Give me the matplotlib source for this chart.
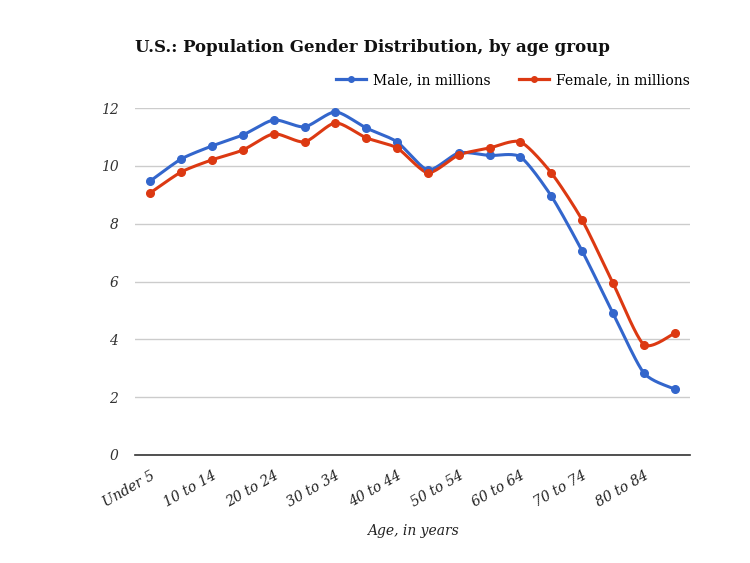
import numpy as np
import matplotlib
matplotlib.use("Agg")
import matplotlib.pyplot as plt

age_groups = ["Under 5", "5 to 9", "10 to 14", "15 to 19", "20 to 24", "25 to 29",
              "30 to 34", "35 to 39", "40 to 44", "45 to 49", "50 to 54", "55 to 59",
              "60 to 64", "65 to 69", "70 to 74", "75 to 79", "80 to 84", "85+"]
male = [9.48, 10.24, 10.69, 11.07, 11.59, 11.35, 11.87, 11.31, 10.83, 9.86,
        10.45, 10.36, 10.31, 8.96, 7.06, 4.91, 2.84, 2.28]
female = [9.07, 9.79, 10.21, 10.55, 11.11, 10.83, 11.49, 10.97, 10.62, 9.76,
          10.38, 10.62, 10.83, 9.76, 8.13, 5.95, 3.82, 4.21]

plt.rcParams['font.family'] = ['DejaVu Serif']


def smooth(x, y, steps=20):
    # catmull-rom style curve through the points, like google charts "function" curves
    x = np.asarray(x, float)
    y = np.asarray(y, float)
    px = np.concatenate([[x[0]], x, [x[-1]]])
    py = np.concatenate([[y[0]], y, [y[-1]]])
    xs, ys = [], []
    for i in range(1, len(px) - 2):
        t = np.linspace(0, 1, steps, endpoint=False)
        for p, out in ((px, xs), (py, ys)):
            p0, p1, p2, p3 = p[i - 1], p[i], p[i + 1], p[i + 2]
            m1 = (p2 - p0) / 2 * 0.7
            m2 = (p3 - p1) / 2 * 0.7
            h00 = 2 * t**3 - 3 * t**2 + 1
            h10 = t**3 - 2 * t**2 + t
            h01 = -2 * t**3 + 3 * t**2
            h11 = t**3 - t**2
            out.extend(h00 * p1 + h10 * m1 + h01 * p2 + h11 * m2)
    xs.append(x[-1])
    ys.append(y[-1])
    return np.array(xs), np.array(ys)


fig = plt.figure(figsize=(7.5, 5.63), dpi=100)
ax = fig.add_axes([0.18, 0.192, 0.74, 0.616])

x = np.arange(len(age_groups))
blue = "#3366cc"
red = "#dc3912"

for vals, col, lab in ((male, blue, "Male, in millions"), (female, red, "Female, in millions")):
    sx, sy = smooth(x, vals)
    ax.plot(sx, sy, color=col, lw=2.2, clip_on=False, zorder=3)
    ax.plot(x, vals, 'o', color=col, ms=5.5, clip_on=False, zorder=4)
    ax.plot([], [], '-o', color=col, lw=2.3, ms=4, label=lab)

ax.set_xlim(-0.5, len(age_groups) - 0.5)
ax.set_ylim(0, 12)
ax.set_yticks(range(0, 13, 2))
ax.set_yticklabels([str(v) for v in range(0, 13, 2)], fontstyle='italic', fontsize=10, color='#333333')
ax.set_xticks(x[::2])
ax.set_xticklabels(age_groups[::2], rotation=30, ha='right', rotation_mode='anchor',
                   fontstyle='italic', fontsize=10, color='#222222')
ax.tick_params(length=0, pad=12)
ax.tick_params(axis='x', pad=10)
ax.grid(axis='y', color='#cccccc', lw=1)
ax.set_axisbelow(True)
for s in ['top', 'right', 'left']:
    ax.spines[s].set_visible(False)
ax.spines['bottom'].set_color('#333333')
ax.spines['bottom'].set_linewidth(1.2)

ax.set_xlabel("Age, in years", fontstyle='italic', fontsize=10, labelpad=10, color='#222222')

fig.text(0.18, 0.915, "U.S.: Population Gender Distribution, by age group",
         fontsize=12, fontweight='bold', va='center', ha='left', color='#111111')
ax.legend(loc='lower right', bbox_to_anchor=(1.01, 1.045), ncol=2, frameon=False,
          fontsize=10, handlelength=2.2, columnspacing=2.0, borderaxespad=0.0,
          handletextpad=0.5)

fig.savefig("out.png", dpi=100)
